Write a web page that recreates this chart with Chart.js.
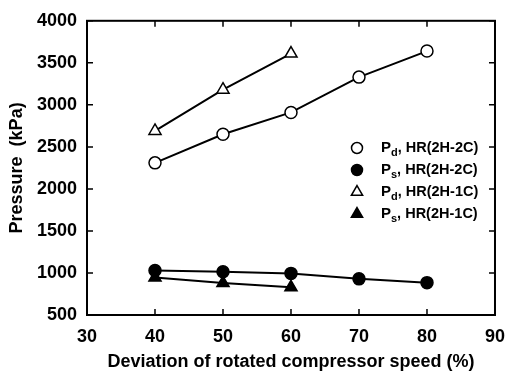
<!DOCTYPE html>
<html>
<head>
<meta charset="utf-8">
<script src="https://cdn.jsdelivr.net/npm/chart.js@4.4.1/dist/chart.umd.min.js"></script>
<style>
  html, body { margin: 0; padding: 0; background: #fff; }
  #wrap { width: 516px; height: 380px; }
</style>
</head>
<body>
<div id="wrap"><canvas id="chart" width="516" height="380"></canvas></div>
<script>
// values
var speed2C = [40, 50, 60, 70, 80];
var speed1C = [40, 50, 60];
var pd2C = [2310, 2650, 2910, 3330, 3640];
var ps2C = [1030, 1015, 995, 930, 885];
var pd1C = [2690, 3180, 3610];
var ps1C = [945, 880, 830];

var legendRows = [
	{ sub: "d", rest: ", HR(2H-2C)", style: "circle", fill: false },
	{ sub: "s", rest: ", HR(2H-2C)", style: "circle", fill: true },
	{ sub: "d", rest: ", HR(2H-1C)", style: "triangle", fill: false },
	{ sub: "s", rest: ", HR(2H-1C)", style: "triangle", fill: true }
];

var FONT = "'Liberation Sans', Arial, sans-serif";

pts = function (xs, ys) {
	return xs.map(function (x, i) { return { x: x, y: ys[i] }; });
};

mkSet = function (label, data, style, filled) {
	return {
		label: label,
		data: data,
		showLine: true,
		borderColor: "#000",
		borderWidth: 2,
		pointStyle: style,
		pointRadius: style == "triangle" ? 7 : 6,
		pointBorderWidth: 1.5,
		pointBorderColor: "#000",
		pointBackgroundColor: filled ? "#000" : "#fff",
		tension: 0
	};
};

// frame + inward ticks on all four sides
var frame = {
	id: "frame",
	afterDraw: function (chart) {
		var c = chart.ctx, a = chart.chartArea;
		var xs = chart.scales.x, ys = chart.scales.y;
		c.save();
		c.strokeStyle = "#000";
		c.lineWidth = 2;
		c.strokeRect(a.left, a.top, a.right - a.left, a.bottom - a.top);
		c.lineWidth = 1.5;
		c.beginPath();
		xs.ticks.forEach(function (t) {
			var px = xs.getPixelForValue(t.value);
			c.moveTo(px, a.bottom); c.lineTo(px, a.bottom - 6);
			c.moveTo(px, a.top); c.lineTo(px, a.top + 6);
		});
		ys.ticks.forEach(function (t) {
			var py = ys.getPixelForValue(t.value);
			c.moveTo(a.left, py); c.lineTo(a.left + 6, py);
			c.moveTo(a.right, py); c.lineTo(a.right - 6, py);
		});
		c.stroke();
		c.restore();
	}
};

// legend with subscripts
var legendBox = {
	id: "legendBox",
	afterDraw: function (chart) {
		var c = chart.ctx;
		var mx = 357, tx = 381, y0 = 148, dy = 22;
		c.save();
		legendRows.forEach(function (r, i) {
			var y = y0 + i * dy;
			c.fillStyle = r.fill ? "#000" : "#fff";
			c.strokeStyle = "#000";
			c.lineWidth = 1.5;
			Chart.helpers.drawPoint(c, { pointStyle: r.style, radius: r.style == "triangle" ? 6.5 : 5.5, rotation: 0, borderWidth: 1.5 }, mx, y);
			c.fillStyle = "#000";
			c.textBaseline = "middle";
			c.textAlign = "left";
			c.font = "bold 15px " + FONT;
			c.fillText("P", tx, y);
			var w = c.measureText("P").width;
			c.font = "bold 11px " + FONT;
			c.fillText(r.sub, tx + w, y + 5);
			var w2 = c.measureText(r.sub).width;
			c.font = "bold 14.5px " + FONT;
			c.fillText(r.rest, tx + w + w2, y);
		});
		c.restore();
	}
};

new Chart(document.getElementById("chart").getContext("2d"), {
	type: "scatter",
	data: {
		datasets: [
			mkSet("Pd, HR(2H-2C)", pts(speed2C, pd2C), "circle", false),
			mkSet("Ps, HR(2H-2C)", pts(speed2C, ps2C), "circle", true),
			mkSet("Pd, HR(2H-1C)", pts(speed1C, pd1C), "triangle", false),
			mkSet("Ps, HR(2H-1C)", pts(speed1C, ps1C), "triangle", true)
		]
	},
	options: {
		responsive: false,
		animation: false,
		layout: { padding: { left: 0, right: 11, top: 18, bottom: 0 } },
		plugins: { legend: { display: false }, tooltip: { enabled: false } },
		scales: {
			x: {
				type: "linear",
				min: 30, max: 90,
				grid: { display: false, drawTicks: false },
				border: { display: false },
				ticks: { stepSize: 10, padding: 11, color: "#000", font: { family: FONT, size: 18, weight: "bold" } },
				title: { display: true, text: "Deviation of rotated compressor speed (%)", color: "#000", padding: { top: 0, bottom: 7 }, font: { family: FONT, size: 18, weight: "bold" } },
				afterFit: function (s) { s.height = 65; }
			},
			y: {
				min: 500, max: 4000,
				grid: { display: false, drawTicks: false },
				border: { display: false },
				ticks: {
					stepSize: 500, padding: 10, color: "#000", font: { family: FONT, size: 18, weight: "bold" },
					callback: function (v) { return String(v); }
				},
				title: { display: true, text: "Pressure  (kPa)", color: "#000", padding: { top: 6, bottom: 0 }, font: { family: FONT, size: 18, weight: "bold" } },
				afterFit: function (s) { s.width = 87; }
			}
		}
	},
	plugins: [frame, legendBox]
});
</script>
</body>
</html>
